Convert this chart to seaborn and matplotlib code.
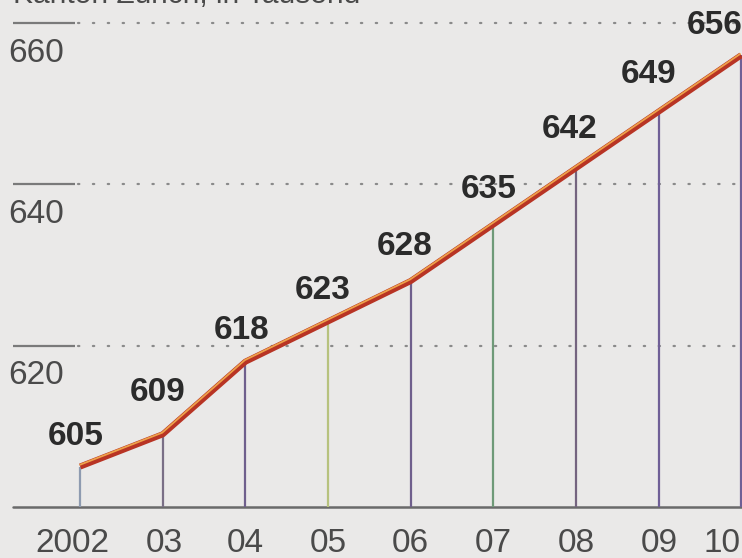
import matplotlib
matplotlib.use("Agg")
import matplotlib.pyplot as plt
import matplotlib.transforms as mtransforms
import seaborn as sns
import pandas as pd

# Data
years = [2002, 2003, 2004, 2005, 2006, 2007, 2008, 2009, 2010]
year_labels = ["2002", "03", "04", "05", "06", "07", "08", "09", "10"]
population = [605, 609, 618, 623, 628, 635, 642, 649, 656]
grid_values = [620, 640, 660]
subtitle = "Kanton Zürich, in Tausend"

df = pd.DataFrame({"year": years, "population": population})

sns.set_theme(style="white")
plt.rcParams["font.family"] = ["Liberation Sans", "DejaVu Sans"]

paper = "#eae9e8"
fig = plt.figure(figsize=(7.42, 5.58), dpi=100, facecolor=paper)
ax = fig.add_axes([0, 0, 1, 1], facecolor=paper)
ax.set_xlim(2001.03, 2010.01)
ax.set_ylim(593.66, 662.85)
ax.axis("off")

px = 72.0 / 100.0  # points per pixel

# Grid lines: short solid lead-in, then a dotted run
blend = mtransforms.blended_transform_factory(ax.transAxes, ax.transData)
for g in grid_values:
    ax.plot([0.0175, 0.101], [g, g], transform=blend, color="#7a7a7a", lw=1.6,
            solid_capstyle="butt")
    ax.plot([0.105, 1.0], [g, g], transform=blend, color="#8a8a8a", lw=1.6,
            linestyle=(0, (0.6, 6.1)), dash_capstyle="round")
    ax.text(0.011, g - 4.8, str(g), transform=blend, ha="left", va="baseline",
            fontsize=24, color="#4a4a4a")

# Base line
ax.plot([0.0175, 1.0], [600, 600], transform=blend, color="#6a6a6a", lw=1.8)

# Drop lines from the base to each yearly value
drop_colors = ["#8e9bb0", "#7a6f86", "#6f5f8c", "#b7c27e", "#6f5f8c",
               "#6f9a78", "#74647f", "#6f5f96", "#6f5f96"]
ax.vlines(years, 600, population, colors=drop_colors, lw=1.6, zorder=2)

# Main series line with a warm highlight on its upper edge
sns.lineplot(data=df, x="year", y="population", ax=ax, color="#b83424",
             lw=4.4, solid_capstyle="butt", zorder=4, legend=False)
hl = ax.transData + mtransforms.ScaledTranslation(-0.6 / 100, 1.6 / 100,
                                                  fig.dpi_scale_trans)
ax.plot(years, population, color="#eea24a", lw=1.3, transform=hl, zorder=5,
        solid_capstyle="butt")

# Value labels
offsets = [(-4, 22), (-5, 33), (-4, 23), (-5, 22), (-6, 26),
           (-5, 27), (-6, 30), (-10, 29), (-26, 21)]
for x, y, (dx, dy) in zip(years, population, offsets):
    ax.annotate(str(y), (x, y), xytext=(dx * px, dy * px),
                textcoords="offset points", ha="center", va="baseline",
                fontsize=24, fontweight="bold", color="#2b2b2b", zorder=6)

# Year labels along the base
label_shift = [-8, 2, 0, 0, 0, 0, 0, 1, -19]
for x, lab, sh in zip(years, year_labels, label_shift):
    ax.annotate(lab, (x, 594.4), xytext=(sh * px, 0), textcoords="offset points",
                ha="center", va="baseline", fontsize=24, color="#4a4a4a")

# Subtitle running off the top edge
fig.text(0.017, 1 - 3 / 558, subtitle, ha="left", va="baseline",
         fontsize=21.5, color="#4a4a4a")

fig.savefig("out.png", dpi=100, facecolor=paper)
